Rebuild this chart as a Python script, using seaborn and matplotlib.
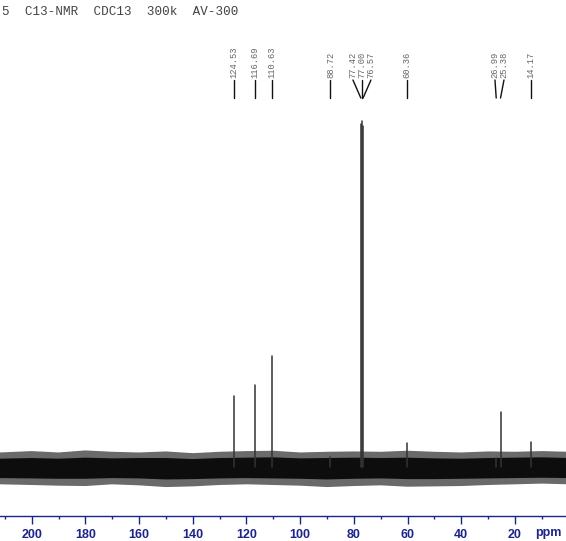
import numpy as np
import pandas as pd
import matplotlib
matplotlib.use("Agg")
import matplotlib.pyplot as plt
import matplotlib.transforms as mtransforms
import seaborn as sns

# ---- data ----
title_text = "5  C13-NMR  CDC13  300k  AV-300"
peak_ppm = [124.53, 116.69, 110.63, 88.72, 77.42, 77.00, 76.57, 60.36, 26.99, 25.38, 14.17]
peak_height = [20.5, 23.7, 32.1, 3.0, 99.0, 100.0, 98.5, 6.9, 2.5, 15.9, 7.2]
peak_label = ["124.53", "116.69", "110.63", "88.72", "77.42", "77.00", "76.57",
              "60.36", "26.99", "25.38", "14.17"]
# label positions (ppm) where the annotation text sits (spread for close peaks)
label_ppm = [124.53, 116.69, 110.63, 88.72, 80.35, 77.0, 73.65, 60.36, 27.45, 24.1, 14.17]
# baseline noise envelope read every 10 ppm
noise_ppm = [212, 200, 190, 180, 170, 160, 150, 140, 130, 120, 110, 100, 90, 80,
             70, 60, 50, 40, 30, 20, 10, 0]
noise_hi_outer = [4.2, 4.6, 4.2, 4.8, 4.4, 4.2, 4.5, 4.0, 4.4, 4.6, 4.7, 4.2, 4.4, 4.5,
                  4.4, 4.7, 4.4, 4.2, 4.5, 4.4, 4.6, 4.4]
noise_lo_outer = [-5.0, -5.2, -5.4, -5.5, -5.0, -5.3, -5.8, -5.6, -5.2, -5.0, -5.2, -5.4,
                  -5.8, -5.5, -5.3, -5.7, -5.6, -5.5, -5.2, -5.0, -4.8, -5.0]
noise_hi_inner = [2.4, 2.6, 2.4, 2.7, 2.5, 2.6, 2.6, 2.3, 2.6, 2.7, 2.8, 2.5, 2.6, 2.7,
                  2.6, 2.7, 2.5, 2.4, 2.6, 2.7, 2.8, 2.6]
noise_lo_inner = [-3.2, -3.3, -3.4, -3.4, -3.2, -3.3, -3.6, -3.5, -3.3, -3.2, -3.3, -3.4,
                  -3.6, -3.4, -3.3, -3.5, -3.5, -3.4, -3.3, -3.2, -3.1, -3.2]
x_ticks = [200, 180, 160, 140, 120, 100, 80, 60, 40, 20]

W, H = 566, 541
sns.set_style("white")
plt.rcParams["font.family"] = ["Liberation Sans", "DejaVu Sans"]

fig = plt.figure(figsize=(W / 100, H / 100), dpi=100)
ax = fig.add_axes([0, 25 / H, 1, 516 / H])

# noise band
ax.fill_between(noise_ppm, noise_lo_outer, noise_hi_outer, color="#6a6a6a",
                linewidth=0, zorder=1)
ax.fill_between(noise_ppm, noise_lo_inner, noise_hi_inner, color="#0d0d0d",
                linewidth=0, zorder=3)

# stick peaks via seaborn
rows = []
for i, (p, h) in enumerate(zip(peak_ppm, peak_height)):
    rows.append({"ppm": p, "I": 0.0, "pk": i})
    rows.append({"ppm": p, "I": h, "pk": i})
sticks = pd.DataFrame(rows)
sns.lineplot(data=sticks, x="ppm", y="I", units="pk", estimator=None,
             color="#333333", linewidth=1.1, sort=False, ax=ax, zorder=4)

ax.set_xlim(211.8, 1.0)
ax.set_ylim(-14.16, 134.97)
ax.set_xlabel("")
ax.set_ylabel("")
ax.set_yticks([])
ax.set_xticks(x_ticks)
ax.set_xticklabels([str(t) for t in x_ticks])
ax.set_xticks(np.arange(10, 211, 20), minor=True)
navy = "#1c2488"
for s in ["top", "left", "right"]:
    ax.spines[s].set_visible(False)
ax.spines["bottom"].set_color(navy)
ax.spines["bottom"].set_linewidth(1.0)
ax.tick_params(axis="x", which="major", direction="out", length=6, width=1.0,
               color=navy, labelcolor=navy, labelsize=9, pad=3, bottom=True)
ax.tick_params(axis="x", which="minor", direction="out", length=2.5, width=1.0,
               color=navy, bottom=True)
for lab in ax.get_xticklabels():
    lab.set_fontweight("bold")

# peak annotations
trans = mtransforms.blended_transform_factory(ax.transData, ax.transAxes)
y_top = (516 - 80) / 516
y_bot = (516 - 98) / 516
for p, lp, lab in zip(peak_ppm, label_ppm, peak_label):
    ax.plot([lp, p], [y_top, y_bot], transform=trans, color="#111111",
            linewidth=1.0, clip_on=False)
    ax.text(lp, (516 - 78) / 516, lab, transform=trans, rotation=90,
            ha="center", va="bottom", fontsize=6.3, color="#666666",
            family=["Liberation Mono", "DejaVu Sans Mono"])

fig.text(2 / W, 1 - 15 / H, title_text, ha="left", va="baseline",
         fontsize=9.1, color="#444444",
         family=["Liberation Mono", "DejaVu Sans Mono"])
fig.text(548 / W, 1 - 533 / H, "ppm", ha="center", va="center", fontsize=9,
         fontweight="bold", color=navy)

fig.savefig("out.png", dpi=100)
